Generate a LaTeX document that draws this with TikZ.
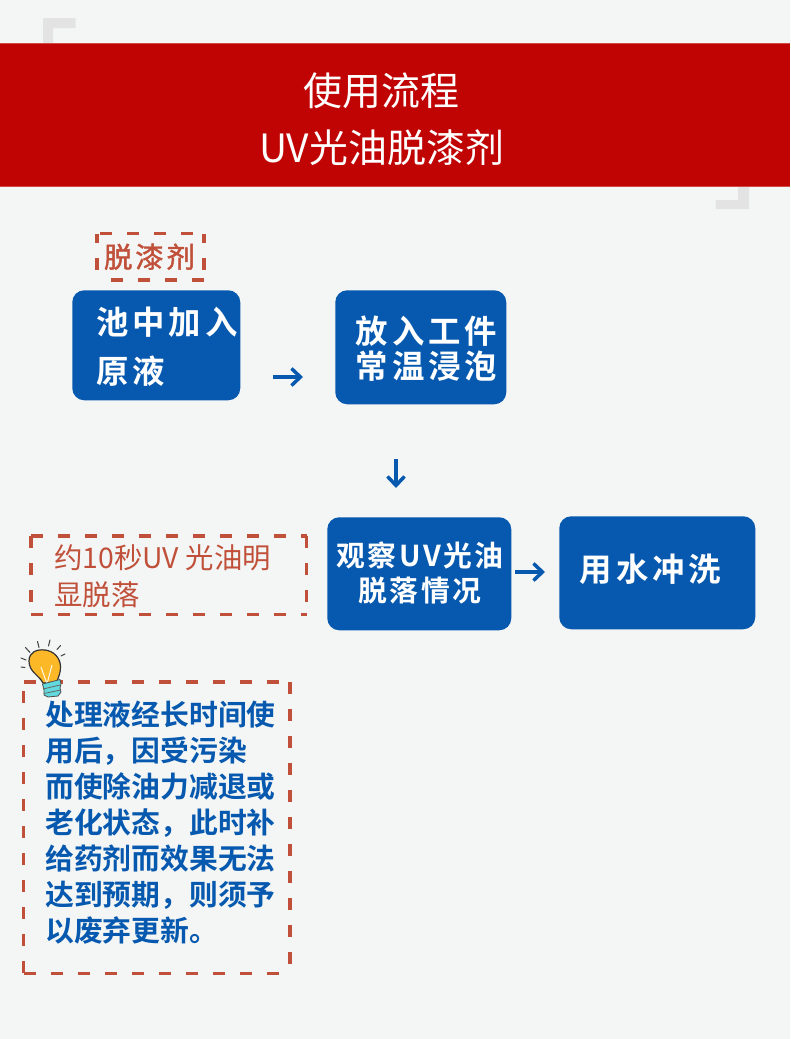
\documentclass[tikz,border=0pt]{standalone}
\usepackage{fontspec}
\usetikzlibrary{arrows.meta}
\newfontfamily\cjkreg{Noto Sans CJK SC}
\newfontfamily\cjkbold[LetterSpace=12]{Noto Sans CJK SC Bold}
\newfontfamily\cjkboldmid[LetterSpace=9]{Noto Sans CJK SC Bold}
\newfontfamily\cjkboldtight{Noto Sans CJK SC Bold}
\newfontfamily\cjklabel[LetterSpace=10,FakeBold=1.5]{Noto Sans CJK SC}
\def\px{0.75pt}
\definecolor{bgc}{HTML}{F4F6F5}
\definecolor{bandc}{HTML}{C00404}
\definecolor{bandedge}{HTML}{D24A45}
\definecolor{cornerc}{HTML}{E4E3E4}
\definecolor{bluec}{HTML}{0659AE}
\definecolor{dashc}{HTML}{C0503A}
\definecolor{bulbc}{HTML}{FDB827}
\definecolor{basec}{HTML}{62D9DD}
\tikzset{
  x=0.75pt,y=-0.75pt,
  bluebox/.style={fill=bluec,rounded corners=12*\px,inner sep=0pt,anchor=north west},
  boxtext/.style={text=white,font=\cjkbold\fontsize{24.3}{36.75}\selectfont,inner sep=0pt,align=left},
  framebox/.style={inner sep=0pt,anchor=north west},
  dashside/.style={draw=dashc,line width=3.3*\px,dash pattern=on 12*\px off 15*\px},
  flow/.style={draw=bluec,line width=3.5*\px,-{Straight Barb[length=9*\px,width=17*\px,line width=3.5*\px]}},
  corner/.style={draw=none,fill=cornerc},
  rays/.style={draw=black!75,line width=1*\px,line cap=round},
}
\begin{document}
\begin{tikzpicture}
\useasboundingbox (0,0) rectangle (790,1039);
\fill[bgc] (0,0) rectangle (790,1039);
% corner brackets
\path[corner] (43,18) -- (75.5,18) -- (75.5,28) -- (53,28) -- (53,43) -- (43,43) -- cycle;
\path[corner] (749,186) -- (749,209) -- (715.5,209) -- (715.5,200) -- (738,200) -- (738,186) -- cycle;
% band
\fill[bandc] (0,43.5) rectangle (790,186.5);
\draw[bandedge,line width=1*\px] (0,43.5) -- (790,43.5);
\draw[bandedge,line width=1*\px] (0,186.5) -- (790,186.5);
\node[text=white,font=\cjkreg\fontsize{29.2}{42.7}\selectfont,align=center,inner sep=0pt] (title) at (381.5,119.5) {使用流程\\UV光油脱漆剂};
% label frame
\node[framebox,minimum width=106.5*\px,minimum height=46*\px,text=dashc,font=\cjklabel\fontsize{21.3}{24}\selectfont,xshift=0pt] (lab) at (97,233.5) {\hspace*{-1.5pt}脱漆剂};
\draw[dashside] (lab.north west) ++(3,0) -- (lab.north east);
\draw[dashside,dash phase=3*\px] (lab.north east) -- (lab.south east);
\draw[dashside] (lab.south east) -- (lab.south west);
\draw[dashside,dash phase=3*\px] (lab.north west) -- (lab.south west);
% blue boxes
\node[bluebox,minimum width=168*\px,minimum height=110*\px] (a) at (72,290) {};
\node[bluebox,minimum width=171*\px,minimum height=114*\px] (b) at (335,290) {};
\node[bluebox,minimum width=184*\px,minimum height=113*\px] (c) at (327,517) {};
\node[bluebox,minimum width=196*\px,minimum height=113*\px] (d) at (559,516) {};
\node[boxtext,anchor=west] (ta) at (96,346.5) {池中加入\\原液};
\node[boxtext,anchor=center,align=center,font=\cjkbold\fontsize{24.3}{26.25}\selectfont] (tb) at (426.5,348.5) {放入工件\\常温浸泡};
\node[boxtext,anchor=center,align=center,font=\cjkboldmid\fontsize{21.6}{26.25}\selectfont] (tc) at (420,572.5) {观察UV光油\\脱落情况};
\node[boxtext,anchor=center] (td) at (650.5,569) {用水冲洗};
% connectors
\coordinate (ab1) at (273,377); \coordinate (ab2) at (303,377);
\coordinate (bc1) at (396,459); \coordinate (bc2) at (396,488);
\coordinate (cd1) at (515,572); \coordinate (cd2) at (545,572);
\draw[flow] (ab1) -- (ab2);
\draw[flow] (bc1) -- (bc2);
\draw[flow] (cd1) -- (cd2);
% note frames
\node[framebox,minimum width=275*\px,minimum height=78*\px] (n1) at (31,536) {};
\node[text=dashc,font=\cjkreg\fontsize{21.3}{27.75}\selectfont,align=left,inner sep=0pt,anchor=west] (n1t) at (54,576.5) {约10秒UV 光油明\\显脱落};
\draw[dashside] (n1.north west) -- (n1.north east);
\draw[dashside] (n1.north east) -- (n1.south east);
\draw[dashside] (n1.south west) -- (n1.south east);
\draw[dashside] (n1.north west) -- (n1.south west);
\node[framebox,minimum width=266*\px,minimum height=291*\px] (n2) at (23.5,682) {};
\node[text=bluec,font=\cjkboldtight\fontsize{21.6}{27}\selectfont,align=left,inner sep=0pt,anchor=north west] (n2t) at (45,701) {处理液经长时间使\\用后，因受污染\\而使除油力减退或\\老化状态，此时补\\给药剂而效果无法\\达到预期，则须予\\以废弃更新。};
\draw[dashside] (n2.north west) -- (n2.north east);
\draw[dashside,dash phase=0pt] (n2.north east) -- (n2.south east);
\draw[dashside] (n2.south west) -- (n2.south east);
\draw[dashside,dash phase=-9*\px] (n2.north west) -- (n2.south west);
% bulb
\begin{scope}[line width=1.2*\px,draw=black!80]
\draw[rays] (21,667) -- (25,667.5);
\draw[rays] (21,658) -- (26,660);
\draw[rays] (25.5,647.5) -- (30,652.5);
\draw[rays] (37.5,641.5) -- (39,647.5);
\draw[rays] (50,640) -- (48.5,646);
\draw[rays] (60.5,645.5) -- (57,649.5);
\draw[rays] (65,654) -- (61,656);
\draw[fill=bulbc,draw=black!80] (43,683) .. controls (39,675) and (29,672) .. (29,661) .. controls (29,652) and (37,649) .. (45,650) .. controls (54,651) and (60,658) .. (60.5,666) .. controls (61,673) and (58,677) .. (57,682) -- cycle;
\draw[white!90!bulbc,line width=1*\px] (41,667) -- (47,684) -- (52,665);
\draw[fill=basec,draw=black!70,line width=0.8*\px] (42.5,684) -- (60,679.5) -- (61,684) -- (60,688) -- (61,692) -- (58,696) -- (48,697) -- (44,695) -- (44,690) -- cycle;
\draw[black!60,line width=0.8*\px] (43,689) -- (60,685);
\draw[black!60,line width=0.8*\px] (44,693.5) -- (60.5,690);
\end{scope}
\end{tikzpicture}
\end{document}
